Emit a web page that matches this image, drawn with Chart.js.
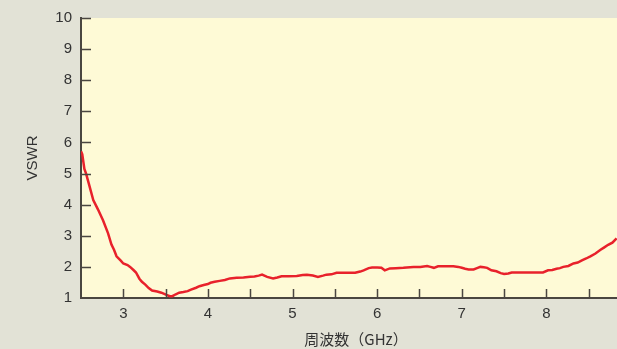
<!DOCTYPE html>
<html>
<head>
<meta charset="utf-8">
<script src="https://cdn.jsdelivr.net/npm/chart.js@4/dist/chart.umd.min.js"></script>
<style>
  html, body { margin: 0; padding: 0; overflow: hidden; background: #e2e2d6; }
  canvas { display: block; }
</style>
</head>
<body>
<canvas id="c" width="632" height="349"></canvas>
<script>
// Frequency sweep (GHz) and measured VSWR
const freqGHz = [
  2.50, 2.515, 2.54, 2.56, 2.59, 2.645, 2.70, 2.76, 2.82, 2.86, 2.89, 2.92, 2.97, 3.00,
  3.05, 3.08, 3.12, 3.15, 3.19, 3.22, 3.26, 3.30, 3.34, 3.40, 3.45, 3.51, 3.55, 3.58,
  3.62, 3.66, 3.71, 3.76, 3.80, 3.86, 3.90, 3.95, 4.00, 4.03, 4.08, 4.14, 4.20, 4.26,
  4.34, 4.42, 4.50, 4.55, 4.60, 4.64, 4.70, 4.77, 4.82, 4.87, 4.95, 5.05, 5.12, 5.17,
  5.24, 5.30, 5.36, 5.40, 5.46, 5.52, 5.60, 5.74, 5.80, 5.84, 5.90, 5.94, 6.00, 6.05,
  6.09, 6.15, 6.22, 6.31, 6.43, 6.51, 6.59, 6.63, 6.67, 6.72, 6.80, 6.90, 6.96, 7.00,
  7.04, 7.08, 7.14, 7.18, 7.22, 7.26, 7.30, 7.35, 7.41, 7.46, 7.50, 7.55, 7.59, 7.75,
  7.96, 8.02, 8.07, 8.12, 8.16, 8.20, 8.26, 8.32, 8.37, 8.42, 8.47, 8.52, 8.58, 8.64,
  8.68, 8.73, 8.78, 8.83
];
const vswr = [
  5.72, 5.62, 5.15, 5.00, 4.70, 4.15, 3.85, 3.50, 3.08, 2.72, 2.55, 2.34, 2.20, 2.11,
  2.06, 2.00, 1.90, 1.82, 1.62, 1.52, 1.43, 1.32, 1.24, 1.21, 1.17, 1.10, 1.06, 1.06,
  1.12, 1.17, 1.19, 1.22, 1.27, 1.33, 1.38, 1.42, 1.45, 1.49, 1.52, 1.55, 1.58, 1.63,
  1.65, 1.66, 1.68, 1.69, 1.72, 1.75, 1.68, 1.63, 1.66, 1.70, 1.70, 1.71, 1.74, 1.75,
  1.72, 1.68, 1.72, 1.75, 1.76, 1.81, 1.81, 1.81, 1.85, 1.89, 1.96, 1.98, 1.98, 1.97,
  1.89, 1.95, 1.96, 1.97, 2.00, 2.00, 2.03, 2.00, 1.97, 2.02, 2.02, 2.02, 2.00, 1.97,
  1.94, 1.92, 1.92, 1.96, 2.00, 1.99, 1.97, 1.89, 1.86, 1.80, 1.77, 1.79, 1.82, 1.82,
  1.82, 1.89, 1.90, 1.94, 1.96, 2.00, 2.03, 2.11, 2.14, 2.21, 2.27, 2.34, 2.43, 2.55,
  2.62, 2.71, 2.78, 2.92
];
// Axis ranges and tick steps
const xRange = [2.5, 9];
const yRange = [1, 10];
const xTickStep = 0.5;
const yTickStep = 1;
const xTitle = '周波数（GHz）';
const yTitle = 'VSWR';

const AXIS_COLOR = '#4a4640';
const LABEL_COLOR = '#333333';

// Pale plot background + inward tick marks
const frame = {
  id: 'frame',
  beforeDraw(chart) {
    const { ctx, chartArea: a } = chart;
    ctx.save();
    ctx.fillStyle = '#fefad6';
    ctx.fillRect(a.left, a.top, a.right - a.left, a.bottom - a.top);
    ctx.restore();
  },
  afterDraw(chart) {
    const { ctx, chartArea: a, scales } = chart;
    ctx.save();
    ctx.strokeStyle = AXIS_COLOR;
    ctx.lineWidth = 1.5;
    ctx.beginPath();
    scales.x.ticks.forEach(t => {
      const px = Math.round(scales.x.getPixelForValue(t.value)) + 0.5;
      if (px <= a.left + 2) return;
      ctx.moveTo(px, a.bottom);
      ctx.lineTo(px, a.bottom - 9);
    });
    scales.y.ticks.forEach(t => {
      const py = Math.round(scales.y.getPixelForValue(t.value)) + 0.5;
      if (py >= a.bottom - 2) return;
      ctx.moveTo(a.left, py);
      ctx.lineTo(a.left + 10, py);
    });
    ctx.stroke();
    ctx.restore();
  }
};

const tickFont = { family: '"Liberation Sans", Arial, sans-serif', size: 15 };

new Chart(document.getElementById('c'), {
  type: 'line',
  data: {
    datasets: [{
      data: freqGHz.map((f, i) => ({ x: f, y: vswr[i] })),
      borderColor: '#e8212b',
      borderWidth: 2.5,
      pointRadius: 0,
      tension: 0,
      fill: false
    }]
  },
  options: {
    responsive: false,
    animation: false,
    layout: { padding: { top: 16, right: 1, left: 0, bottom: 0 } },
    plugins: { legend: { display: false }, tooltip: { enabled: false } },
    scales: {
      x: {
        type: 'linear',
        min: xRange[0],
        max: xRange[1],
        afterFit(s) { s.height = 51; s.paddingRight = 0; s.paddingLeft = 0; },
        ticks: {
          stepSize: xTickStep,
          autoSkip: false,
          maxRotation: 0,
          padding: 7,
          color: LABEL_COLOR,
          font: tickFont,
          callback: v => (Number.isInteger(v) && v > xRange[0] ? String(v) : '')
        },
        grid: { display: true, drawOnChartArea: false, drawTicks: false, color: 'rgba(0,0,0,0)' },
        border: { display: true, color: AXIS_COLOR, width: 2 },
        title: {
          display: true,
          text: xTitle,
          color: LABEL_COLOR,
          font: { family: '"Noto Sans CJK JP", "Liberation Sans", sans-serif', size: 15 },
          padding: { top: 0, bottom: 1 }
        }
      },
      y: {
        min: yRange[0],
        max: yRange[1],
        afterFit(s) { s.width = 81; },
        ticks: {
          stepSize: yTickStep,
          padding: 9,
          color: LABEL_COLOR,
          font: tickFont
        },
        grid: { display: true, drawOnChartArea: false, drawTicks: false, color: 'rgba(0,0,0,0)' },
        border: { display: true, color: AXIS_COLOR, width: 2 },
        title: {
          display: true,
          text: yTitle,
          color: LABEL_COLOR,
          font: { family: '"Liberation Sans", Arial, sans-serif', size: 15 },
          padding: { top: 24, bottom: 0 }
        }
      }
    }
  },
  plugins: [frame]
});
</script>
</body>
</html>
